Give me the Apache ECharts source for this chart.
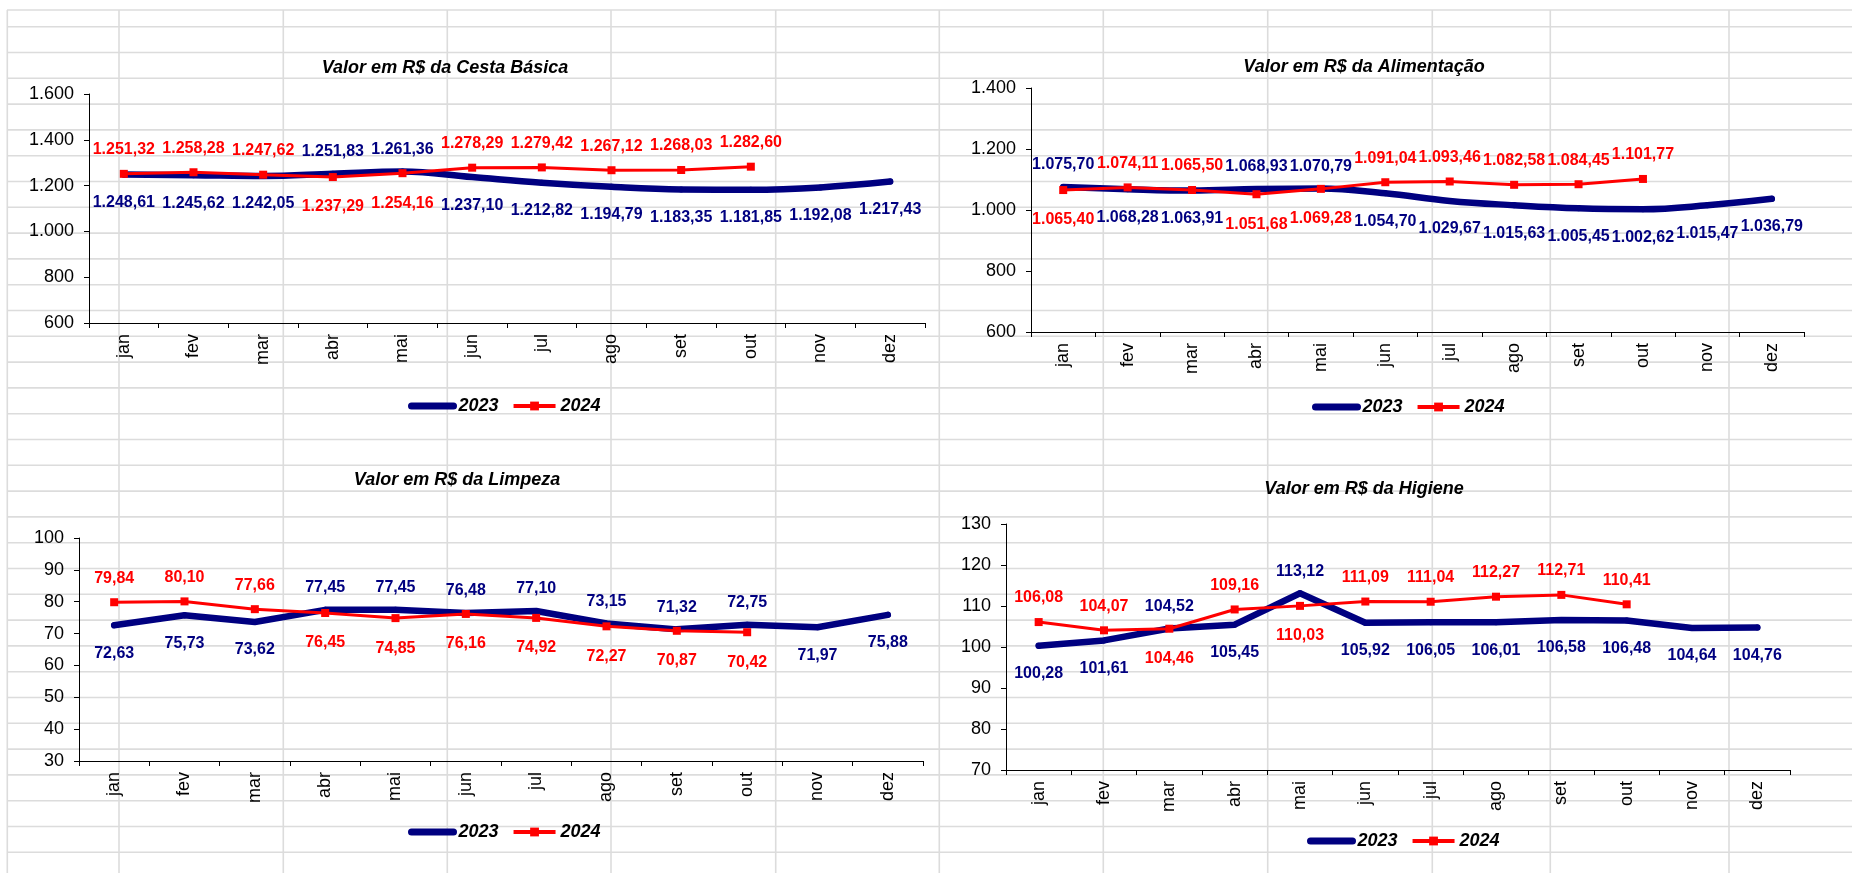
<!DOCTYPE html>
<html>
<head>
<meta charset="utf-8">
<script src="https://cdn.jsdelivr.net/npm/echarts@6/dist/echarts.min.js"></script>
<style>
html,body{margin:0;padding:0;background:#fff;}
#c{width:1852px;height:873px;}
</style>
</head>
<body>
<div id="c"></div>
<script>
// ---------- data ----------
const months = ['jan','fev','mar','abr','mai','jun','jul','ago','set','out','nov','dez'];
const seriesNames = ['2023','2024'];

const titleCesta = 'Valor em R$ da Cesta Básica';
const cesta2023 = [1248.61,1245.62,1242.05,1251.83,1261.36,1237.10,1212.82,1194.79,1183.35,1181.85,1192.08,1217.43];
const cesta2024 = [1251.32,1258.28,1247.62,1237.29,1254.16,1278.29,1279.42,1267.12,1268.03,1282.60];
const cestaAxis = [600,1600,200];

const titleAlim = 'Valor em R$ da Alimentação';
const alim2023 = [1075.70,1068.28,1063.91,1068.93,1070.79,1054.70,1029.67,1015.63,1005.45,1002.62,1015.47,1036.79];
const alim2024 = [1065.40,1074.11,1065.50,1051.68,1069.28,1091.04,1093.46,1082.58,1084.45,1101.77];
const alimAxis = [600,1400,200];

const titleLimp = 'Valor em R$ da Limpeza';
const limp2023 = [72.63,75.73,73.62,77.45,77.45,76.48,77.10,73.15,71.32,72.75,71.97,75.88];
const limp2024 = [79.84,80.10,77.66,76.45,74.85,76.16,74.92,72.27,70.87,70.42];
const limpAxis = [30,100,10];

const titleHig = 'Valor em R$ da Higiene';
const hig2023 = [100.28,101.61,104.52,105.45,113.12,105.92,106.05,106.01,106.58,106.48,104.64,104.76];
const hig2024 = [106.08,104.07,104.46,109.16,110.03,111.09,111.04,112.27,112.71,110.41];
const higAxis = [70,130,10];

// ---------- layout / style ----------
const FONT = "'Liberation Sans', Arial, sans-serif";
const BLUE = '#000080';
const RED = '#ff0000';

const panels = [
  {title: titleCesta, a: cesta2023, b: cesta2024, axis: cestaAxis, smooth: 0.4,
   grid: {left: 89, top: 94, width: 836, height: 229}, titleX: 440, titleY: 54, legendX: 408, legendY: 397},
  {title: titleAlim, a: alim2023, b: alim2024, axis: alimAxis, smooth: 0.4,
   grid: {left: 1031, top: 88, width: 773, height: 244}, titleX: 1359, titleY: 53, legendX: 1312, legendY: 398},
  {title: titleLimp, a: limp2023, b: limp2024, axis: limpAxis, smooth: false,
   grid: {left: 79, top: 538, width: 844, height: 223}, titleX: 452, titleY: 466, legendX: 408, legendY: 823},
  {title: titleHig, a: hig2023, b: hig2024, axis: higAxis, smooth: false,
   grid: {left: 1006, top: 524, width: 784, height: 246}, titleX: 1359, titleY: 475, legendX: 1307, legendY: 832}
];

function fmtBR(v, dec) {
  const s = Number(v).toFixed(dec);
  const parts = s.split('.');
  const i = parts[0].replace(/\B(?=(\d{3})+(?!\d))/g, '.');
  return parts.length > 1 ? i + ',' + parts[1] : i;
}

// spreadsheet cell grid behind the charts
const graphics = [];
const rowLines = [10];
for (let i = 0; i <= 32; i++) rowLines.push(26.7 + i * 25.8);
const colLines = [7.3, 119, 283.3, 447.3, 611, 775.7, 939.3, 1103.3, 1267.7, 1432.3, 1550.3, 1729];
rowLines.forEach(y => graphics.push({type: 'line', z: -10, silent: true,
  shape: {x1: 7, y1: y, x2: 1852, y2: y}, style: {stroke: '#dcdcdc', lineWidth: 1.6}}));
colLines.forEach(x => graphics.push({type: 'line', z: -10, silent: true,
  shape: {x1: x, y1: 10, x2: x, y2: 873}, style: {stroke: '#dcdcdc', lineWidth: 1.6}}));

const option = {
  backgroundColor: '#fff',
  animation: false,
  graphic: graphics,
  title: [], legend: [], grid: [], xAxis: [], yAxis: [], series: []
};

panels.forEach((p, k) => {
  option.title.push({
    text: p.title, left: p.titleX, top: p.titleY, textAlign: 'center',
    textStyle: {fontFamily: FONT, fontSize: 18, fontWeight: 'bold', fontStyle: 'italic', color: '#000'}
  });
  option.grid.push(Object.assign({containLabel: false}, p.grid));
  option.xAxis.push({
    type: 'category', gridIndex: k, data: months, boundaryGap: true,
    axisLine: {show: true, onZero: false, lineStyle: {color: '#000', width: 1}},
    axisTick: {show: true, alignWithLabel: false, length: 5, lineStyle: {color: '#000'}},
    axisLabel: {interval: 0, rotate: 90, margin: 11, fontFamily: FONT, fontSize: 18, color: '#000'},
    splitLine: {show: false}
  });
  option.yAxis.push({
    type: 'value', gridIndex: k, min: p.axis[0], max: p.axis[1], interval: p.axis[2],
    axisLine: {show: true, lineStyle: {color: '#000', width: 1}},
    axisTick: {show: true, length: 5, lineStyle: {color: '#000'}},
    axisLabel: {margin: 15, fontFamily: FONT, fontSize: 18, color: '#000',
      formatter: v => fmtBR(v, 0)},
    splitLine: {show: false}
  });
  const labelBase = {show: true, fontFamily: FONT, fontSize: 16, fontWeight: 'bold',
    formatter: q => fmtBR(q.value, 2)};
  const aData = p.a.map((v, i) => {
    const up = (i < p.b.length) && v > p.b[i];
    return {value: v, label: {position: up ? 'top' : 'bottom', distance: up ? 11 : 17}};
  });
  const bData = p.b.map((v, i) => {
    const up = !(p.a[i] > v);
    return {value: v, label: {position: up ? 'top' : 'bottom', distance: up ? 12 : 18}};
  });
  option.series.push({
    name: seriesNames[0], type: 'line', xAxisIndex: k, yAxisIndex: k,
    data: aData, smooth: p.smooth, symbol: 'circle', symbolSize: 6,
    itemStyle: {color: BLUE},
    lineStyle: {color: BLUE, width: 6.5, cap: 'round', join: 'round'},
    label: Object.assign({color: BLUE}, labelBase), z: 2
  });
  option.series.push({
    name: seriesNames[1], type: 'line', xAxisIndex: k, yAxisIndex: k,
    data: bData, smooth: false, symbol: 'rect', symbolSize: 8,
    itemStyle: {color: RED},
    lineStyle: {color: RED, width: 3},
    label: Object.assign({color: RED}, labelBase), z: 3
  });
  option.legend.push({
    left: p.legendX, top: p.legendY, orient: 'horizontal', padding: 0,
    itemWidth: 42, itemHeight: 11, itemGap: 13, selectedMode: false,
    data: [
      {name: seriesNames[0], itemStyle: {opacity: 0}, lineStyle: {width: 7, color: BLUE, cap: 'round'}},
      {name: seriesNames[1], lineStyle: {width: 4, color: RED}}
    ],
    textStyle: {fontFamily: FONT, fontSize: 18, fontWeight: 'bold', fontStyle: 'italic', color: '#000', padding: [0,0,0,0]}
  });
});

const chart = echarts.init(document.getElementById('c'), null, {renderer: 'canvas'});
chart.setOption(option);
</script>
</body>
</html>
